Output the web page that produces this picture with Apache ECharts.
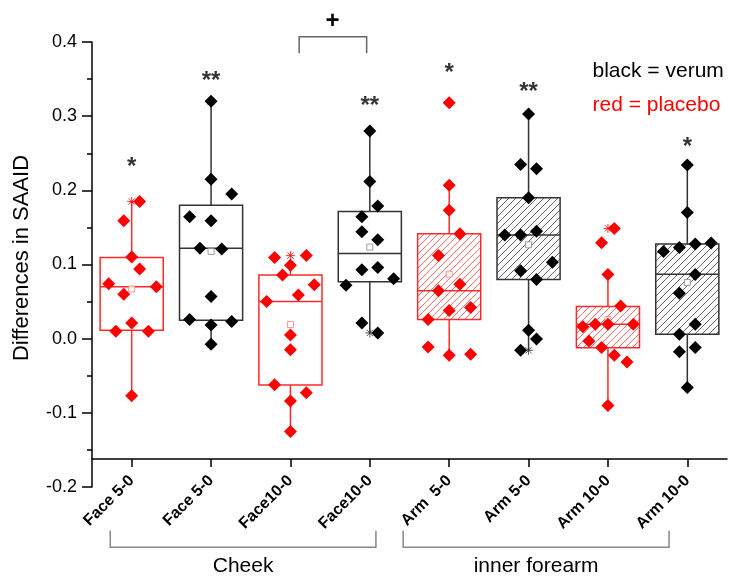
<!DOCTYPE html>
<html>
<head>
<meta charset="utf-8">
<script src="https://cdn.jsdelivr.net/npm/echarts@6/dist/echarts.min.js"></script>
<style>html,body{margin:0;padding:0;background:#fff;}#c{width:732px;height:579px;}</style>
</head>
<body>
<div id="c"></div>
<script>
// ---------- data ----------
const categories = ['Face 5-0', 'Face 5-0', 'Face10-0', 'Face10-0', 'Arm  5-0', 'Arm 5-0', 'Arm 10-0', 'Arm 10-0'];
const placebo = [true, false, true, false, true, false, true, false];
const hatched = [false, false, false, false, true, true, true, true];

const q1 = [0.0113, 0.0249, -0.0626, 0.0766, 0.0257, 0.0797, -0.0121, 0.0060];
const median = [0.070, 0.122, 0.050, 0.115, 0.0645, 0.1397, 0.0195, 0.087];
const q3 = [0.1095, 0.180, 0.086, 0.1716, 0.1415, 0.190, 0.0433, 0.1275];
const mean = [0.067, 0.1176, 0.019, 0.1235, 0.087, 0.1266, 0.0257, 0.0757];
const whiskerLow = [-0.0765, -0.0076, -0.1247, 0.0077, -0.0224, -0.0157, -0.090, -0.066];
const whiskerHigh = [0.186, 0.320, 0.099, 0.280, 0.2068, 0.303, 0.0865, 0.2343];

const pointValues = [
  [0.185, 0.159, 0.110, 0.094, 0.074, 0.070, 0.060, 0.021, 0.010, 0.010, -0.077],
  [0.320, 0.215, 0.195, 0.1645, 0.159, 0.122, 0.121, 0.057, 0.0257, 0.023, 0.0185, -0.0076],
  [0.1095, 0.112, 0.099, 0.086, 0.0726, 0.059, 0.050, 0.005, -0.015, -0.062, -0.073, -0.084, -0.125],
  [0.280, 0.212, 0.179, 0.1645, 0.144, 0.1334, 0.096, 0.093, 0.0807, 0.072, 0.0212, 0.0077],
  [0.318, 0.2068, 0.173, 0.1415, 0.112, 0.0735, 0.0645, 0.042, 0.038, 0.0257, -0.0112, -0.0224, -0.021],
  [0.303, 0.2347, 0.229, 0.190, 0.1397, 0.1397, 0.145, 0.1032, 0.0915, 0.0797, 0.0113, -0.0004, -0.0157],
  [0.1487, 0.1293, 0.0865, 0.0442, 0.0195, 0.0195, 0.0195, 0.0162, -0.003, -0.012, -0.0225, -0.0315, -0.090],
  [0.2343, 0.170, 0.1275, 0.129, 0.123, 0.1176, 0.0865, 0.0614, 0.0195, 0.006, -0.012, -0.0175, -0.066]
];
// horizontal jitter of each point, in fractions of a category band
const pointJitter = [
  [0.10, -0.10, 0, 0.10, -0.29, 0.31, -0.10, 0, -0.20, 0.21, 0],
  [0, 0, 0.26, -0.27, 0, -0.14, 0.135, 0, -0.27, 0.26, 0, 0],
  [-0.20, 0.20, 0, -0.10, 0.30, 0.10, -0.30, 0, 0, -0.20, 0.20, 0, 0],
  [0, 0, 0.10, -0.10, -0.10, 0.10, 0.10, -0.10, 0.30, -0.30, -0.10, 0.10],
  [0, 0, 0, 0.135, -0.135, 0.135, -0.135, 0.27, 0, -0.265, -0.265, 0, 0.27],
  [0, -0.10, 0.10, 0, -0.30, -0.10, 0.10, 0.30, -0.10, 0.10, 0, 0.10, -0.10],
  [0.08, -0.08, 0, 0.16, -0.16, 0, 0.32, -0.315, -0.24, -0.08, 0.08, 0.24, 0],
  [0, 0, 0.10, 0.30, -0.10, -0.30, 0.10, -0.10, 0.10, -0.10, 0.10, -0.10, 0]
];

const starGroup = [0, 1, 3, 4, 5, 7];
const starText = ['*', '**', '**', '*', '**', '*'];
const starLevel = [0.2386, 0.3546, 0.321, 0.3654, 0.34, 0.2656];

const legendLines = ['black = verum', 'red = placebo'];
const regionNames = ['Cheek', 'inner forearm'];
const regionSpan = [[-0.27, 3.077], [3.42, 6.77]];
const yTicks = { min: -0.2, max: 0.4, interval: 0.1 };

// ---------- styles ----------
const FONT = 'Arial, "Liberation Sans", Helvetica, sans-serif';
const RED = '#ff0000';
const BLACK = '#000000';
const boxLineColor = (i) => placebo[i] ? '#ff2a2a' : '#333333';

function hatchPattern(color) {
  const s = 7;
  const c = document.createElement('canvas');
  c.width = s; c.height = s;
  const ctx = c.getContext('2d');
  ctx.fillStyle = '#ffffff';
  ctx.fillRect(0, 0, s, s);
  ctx.strokeStyle = color;
  ctx.lineWidth = 0.9;
  ctx.beginPath();
  ctx.moveTo(0, s); ctx.lineTo(s, 0);
  ctx.moveTo(-1, 1); ctx.lineTo(1, -1);
  ctx.moveTo(s - 1, s + 1); ctx.lineTo(s + 1, s - 1);
  ctx.stroke();
  return { image: c, repeat: 'repeat' };
}
const redHatch = hatchPattern('#ff5a5a');
const blackHatch = hatchPattern('#555555');

const boxData = categories.map((_, i) => [i, whiskerLow[i], q1[i], median[i], q3[i], whiskerHigh[i]]);

function renderBox(params, api) {
  const i = api.value(0);
  const bw = api.size([1, 0])[0] * 0.795;
  const pLo = api.coord([i, api.value(1)]);
  const pQ1 = api.coord([i, api.value(2)]);
  const pMed = api.coord([i, api.value(3)]);
  const pQ3 = api.coord([i, api.value(4)]);
  const pHi = api.coord([i, api.value(5)]);
  const col = boxLineColor(i);
  const fill = hatched[i] ? (placebo[i] ? redHatch : blackHatch) : '#ffffff';
  const x0 = pQ1[0] - bw / 2;
  return {
    type: 'group',
    children: [
      { type: 'line', shape: { x1: pQ3[0], y1: pQ3[1], x2: pHi[0], y2: pHi[1] }, style: { stroke: col, lineWidth: 1.5 } },
      { type: 'line', shape: { x1: pQ1[0], y1: pQ1[1], x2: pLo[0], y2: pLo[1] }, style: { stroke: col, lineWidth: 1.5 } },
      { type: 'rect', shape: { x: x0, y: pQ3[1], width: bw, height: pQ1[1] - pQ3[1] }, style: { fill: fill, stroke: col, lineWidth: 1.5 } },
      { type: 'line', shape: { x1: x0, y1: pMed[1], x2: x0 + bw, y2: pMed[1] }, style: { stroke: col, lineWidth: 1.5 } }
    ]
  };
}

const redPoints = [], blackPoints = [], extremes = [], meansRed = [], meansBlack = [];
pointValues.forEach((vals, g) => {
  vals.forEach((v, k) => {
    (placebo[g] ? redPoints : blackPoints).push([g + pointJitter[g][k], v]);
  });
  extremes.push({ value: [g, Math.max(...vals)], itemStyle: { borderColor: placebo[g] ? RED : '#333' } });
  extremes.push({ value: [g, Math.min(...vals)], itemStyle: { borderColor: placebo[g] ? RED : '#333' } });
  (placebo[g] ? meansRed : meansBlack).push([g, mean[g]]);
});

const starData = starGroup.map((g, k) => ({ value: [g, starLevel[k]], name: starText[k] }));

const chart = echarts.init(document.getElementById('c'), null, { renderer: 'canvas' });
const option = {
  animation: false,
  backgroundColor: '#ffffff',
  textStyle: { fontFamily: FONT },
  grid: { left: 92, top: 42, right: 5, bottom: 92 },
  xAxis: [
    {
      type: 'category',
      data: categories,
      boundaryGap: true,
      offset: -28,
      z: 10,
      axisLine: { onZero: false, lineStyle: { color: BLACK, width: 1.5 } },
      axisTick: { show: true, alignWithLabel: true, inside: false, length: 8, lineStyle: { color: BLACK, width: 1.5 } },
      axisLabel: { rotate: 45, interval: 0, margin: 19, color: BLACK, fontWeight: 'bold', fontSize: 16, fontFamily: FONT },
      splitLine: { show: false }
    },
    { type: 'value', min: -0.5, max: 7.5, show: false, axisLine: { onZero: false } }
  ],
  yAxis: {
    type: 'value',
    min: yTicks.min, max: yTicks.max, interval: yTicks.interval,
    axisLine: { show: true, onZero: false, lineStyle: { color: BLACK, width: 1.5 } },
    axisTick: { show: true, length: 10, lineStyle: { color: BLACK, width: 1.5 } },
    minorTick: { show: true, splitNumber: 2, length: 5, lineStyle: { color: BLACK, width: 1.5 } },
    splitLine: { show: false },
    axisLabel: { margin: 15, fontSize: 18, color: BLACK, fontFamily: FONT, formatter: (v) => v.toFixed(1) }
  },
  series: [
    { type: 'custom', xAxisIndex: 0, renderItem: renderBox, data: boxData, z: 1, silent: true },
    { type: 'scatter', xAxisIndex: 1, data: meansRed, symbol: 'rect', symbolSize: 6, z: 2,
      itemStyle: { color: '#ffffff', borderColor: '#ff7a7a', borderWidth: 1 } },
    { type: 'scatter', xAxisIndex: 1, data: meansBlack, symbol: 'rect', symbolSize: 6, z: 2,
      itemStyle: { color: '#ffffff', borderColor: '#888888', borderWidth: 1 } },
    { type: 'scatter', xAxisIndex: 1, data: extremes, z: 3,
      symbol: 'path://M5,0L5,10M0,5L10,5M1.5,1.5L8.5,8.5M1.5,8.5L8.5,1.5', symbolSize: 9,
      itemStyle: { color: 'none', borderWidth: 1 } },
    { type: 'scatter', xAxisIndex: 1, data: redPoints, symbol: 'diamond', symbolSize: 13, z: 4,
      itemStyle: { color: RED, opacity: 1 } },
    { type: 'scatter', xAxisIndex: 1, data: blackPoints, symbol: 'diamond', symbolSize: 13, z: 4,
      itemStyle: { color: BLACK, opacity: 1 } },
    { type: 'scatter', xAxisIndex: 1, data: starData, symbolSize: 0, z: 5,
      label: { show: true, position: 'inside', offset: [0, 6], formatter: (p) => p.name, fontSize: 24, fontWeight: 'bold', color: BLACK, fontFamily: FONT } }
  ]
};
chart.setOption(option);

// ---------- annotations positioned through the axes ----------
const px = (x, y) => chart.convertToPixel({ xAxisIndex: 1, yAxisIndex: 0 }, [x, y]);
function bracket(x1, x2, yBar, yEnd, color) {
  return { type: 'polyline', shape: { points: [px(x1, yEnd), px(x1, yBar), px(x2, yBar), px(x2, yEnd)] },
    style: { stroke: color, lineWidth: 1.5, fill: null } };
}
const graphics = [];
graphics.push(bracket(2.11, 2.96, 0.4072, 0.385, '#666666'));
const plus = px(2.53, 0.428);
graphics.push({ type: 'text', x: plus[0], y: plus[1], style: { text: '+', font: 'bold 24px ' + FONT, fill: BLACK, align: 'center', verticalAlign: 'middle' } });
regionNames.forEach((name, k) => {
  const [a, b] = regionSpan[k];
  graphics.push(bracket(a, b, -0.2814, -0.259, '#888888'));
  const p = px((a + b) / 2, -0.307);
  graphics.push({ type: 'text', x: p[0], y: p[1], style: { text: name, font: '21px ' + FONT, fill: BLACK, align: 'center', verticalAlign: 'middle' } });
});
graphics.push({ type: 'text', x: 592.5, y: 70.8, style: { text: legendLines[0], font: '21px ' + FONT, fill: BLACK, align: 'left', verticalAlign: 'middle' } });
graphics.push({ type: 'text', x: 592.5, y: 105.2, style: { text: legendLines[1], font: '21px ' + FONT, fill: RED, align: 'left', verticalAlign: 'middle' } });
graphics.push({ type: 'text', x: 22, y: 258, rotation: Math.PI / 2, style: { text: 'Differences in SAAID', font: '22px ' + FONT, fill: BLACK, align: 'center', verticalAlign: 'middle' } });
chart.setOption({ graphic: graphics });
</script>
</body>
</html>
